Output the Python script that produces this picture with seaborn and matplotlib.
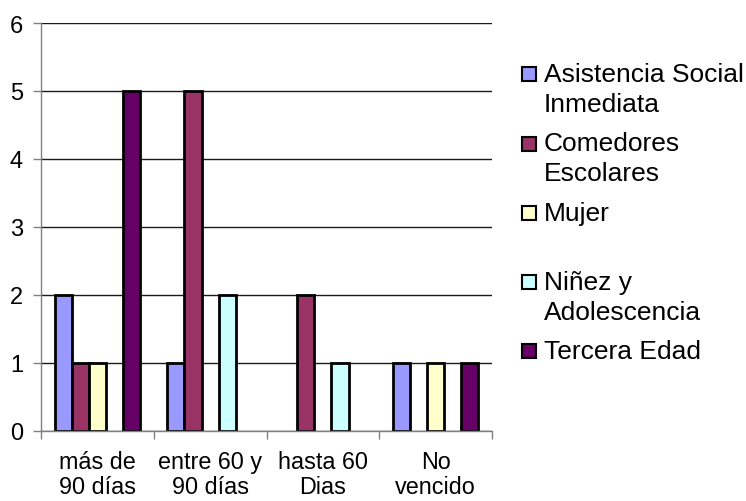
import matplotlib
matplotlib.use("Agg")
import matplotlib.pyplot as plt
import seaborn as sns
import pandas as pd
import numpy as np
from matplotlib.patches import Rectangle

categories = ["más de\n90 días", "entre 60 y\n90 días", "hasta 60\nDias", "No\nvencido"]
series = ["Asistencia Social\nInmediata", "Comedores\nEscolares", "Mujer",
          "Niñez y\nAdolescencia", "Tercera Edad"]
asistencia = [2, 1, 0, 1]
comedores = [1, 5, 2, 0]
mujer = [1, 0, 0, 1]
ninez = [0, 2, 1, 0]
tercera = [5, 0, 0, 1]
colors = ["#9999FF", "#993366", "#FFFFCC", "#CCFFFF", "#660066"]
yticks = [0, 1, 2, 3, 4, 5, 6]

values = [asistencia, comedores, mujer, ninez, tercera]
rows = []
for s, vals in zip(series, values):
    for c, v in zip(categories, vals):
        rows.append({"cat": c, "serie": s, "val": v if v != 0 else np.nan})
df = pd.DataFrame(rows)

sns.set_theme(style="white")
plt.rcParams["font.family"] = ["Liberation Sans", "DejaVu Sans"]

W, H = 746, 502
fig = plt.figure(figsize=(W / 100, H / 100), dpi=100)
ax = fig.add_axes([41 / W, 1 - 432 / H, (492 - 41) / W, (432 - 24) / H])

sns.barplot(data=df, x="cat", y="val", hue="serie", order=categories,
            hue_order=series, palette=colors, saturation=1, width=0.76,
            edgecolor="black", linewidth=2.0, ax=ax, legend=False, errorbar=None)

ax.set_xlim(-0.5, len(categories) - 0.5)
ax.set_ylim(0, 6)
ax.set_yticks(yticks)
ax.set_yticklabels([str(t) for t in yticks])
ax.set_xticks(range(len(categories)))
ax.set_xticklabels(categories, linespacing=1.1)
ax.set_xticks(np.arange(-0.5, len(categories), 1.0), minor=True)
ax.tick_params(axis="x", which="major", length=0, pad=14, labelsize=16.8, colors="black")
ax.tick_params(axis="x", which="minor", length=6, width=1, color="#808080", direction="out", bottom=True)
ax.tick_params(axis="y", which="major", length=6, width=1, color="#808080", direction="out",
               left=True, pad=7, labelsize=17, labelcolor="black")
ax.set_xlabel("")
ax.set_ylabel("")
ax.set_axisbelow(True)
ax.yaxis.grid(True, color="#1a1a1a", linewidth=1.0)
for sp in ["top", "right"]:
    ax.spines[sp].set_visible(False)
for sp in ["left", "bottom"]:
    ax.spines[sp].set_color("#808080")
    ax.spines[sp].set_linewidth(1.0)

# legend
entry_y = [75, 144.5, 213.5, 283, 352]
line_gap = 29.5
for s, col, y0 in zip(series, colors, entry_y):
    fig.patches.append(Rectangle((522 / W, 1 - (y0 + 7) / H), 14 / W, 14 / H,
                                 transform=fig.transFigure, facecolor=col,
                                 edgecolor="black", linewidth=1.5))
    for i, line in enumerate(s.split("\n")):
        fig.text(544 / W, 1 - (y0 + i * line_gap) / H, line, fontsize=19,
                 va="center", ha="left", color="black")

fig.savefig("out.png", dpi=100)
